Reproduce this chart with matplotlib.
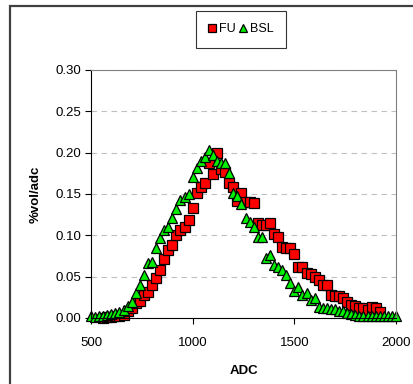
import matplotlib.pyplot as plt
from matplotlib.patches import Rectangle

plt.rcParams['font.family'] = ['Liberation Sans', 'DejaVu Sans']

# FU series (red squares)
fu_adc = list(range(560, 1921, 20))
fu_val = [0.000, 0.001, 0.001, 0.002, 0.003, 0.004, 0.008, 0.012, 0.018, 0.020,
          0.028, 0.032, 0.040, 0.048, 0.058, 0.071, 0.082, 0.088, 0.100, 0.106,
          0.110, 0.119, 0.133, 0.151, 0.158, 0.163, 0.187, 0.174, 0.200, 0.180,
          0.177, 0.163, 0.159, 0.142, 0.151, 0.140, 0.140, 0.139, 0.115, 0.113,
          0.113, 0.115, 0.102, 0.098, 0.086, 0.085, 0.085, 0.077, 0.062, 0.062,
          0.054, 0.053, 0.050, 0.046, 0.040, 0.040, 0.028, 0.027, 0.027, 0.024,
          0.019, 0.016, 0.015, 0.012, 0.012, 0.010, 0.013, 0.012, 0.007]

# BSL series (green triangles)
bsl_adc = list(range(500, 2001, 20))
bsl_val = [0.002, 0.001, 0.002, 0.003, 0.004, 0.005, 0.006, 0.007, 0.010, 0.014,
           0.019, 0.030, 0.040, 0.052, 0.066, 0.068, 0.085, 0.097, 0.107, 0.110,
           0.121, 0.132, 0.143, 0.146, 0.150, 0.171, 0.182, 0.190, 0.195, 0.203,
           0.197, 0.190, 0.187, 0.187, 0.175, 0.151, 0.147, 0.138, 0.121, 0.116,
           0.110, 0.098, 0.098, 0.073, 0.076, 0.064, 0.062, 0.058, 0.052, 0.042,
           0.033, 0.037, 0.028, 0.030, 0.022, 0.024, 0.013, 0.012, 0.012, 0.011,
           0.011, 0.009, 0.008, 0.006, 0.005, 0.004, 0.003, 0.003, 0.002, 0.002,
           0.002, 0.002, 0.002, 0.002, 0.002, 0.002]

x_ticks = [500, 1000, 1500, 2000]
y_ticks = [0.00, 0.05, 0.10, 0.15, 0.20, 0.25, 0.30]

fig = plt.figure(figsize=(4.14, 3.84), dpi=100)
ax = fig.add_axes([91 / 414, 66 / 384, 305 / 414, 248 / 384])

# outer chart border
fig.patches.append(Rectangle((10 / 414, -0.05), 1.2, (384 - 6) / 384 + 0.05,
                             transform=fig.transFigure, fill=False,
                             edgecolor='#404040', linewidth=1.6))

ax.plot(fu_adc, fu_val, linestyle='none', marker='s', ms=6.5,
        markerfacecolor='#ff0000', markeredgecolor='black', markeredgewidth=0.9,
        label='FU', clip_on=False)
ax.plot(bsl_adc, bsl_val, linestyle='none', marker='^', ms=6.8,
        markerfacecolor='#00ee00', markeredgecolor='black', markeredgewidth=0.9,
        label='BSL', clip_on=False)

ax.set_xlim(500, 2000)
ax.set_ylim(0, 0.30)
ax.set_xticks(x_ticks)
ax.set_yticks(y_ticks)
ax.set_yticklabels(['%.2f' % v for v in y_ticks])
ax.tick_params(axis='both', labelsize=9.5, length=4, width=0.8, direction='out', pad=3)
ax.tick_params(axis='x', pad=10)

ax.yaxis.grid(True, color='#c0c0c0', linestyle=(0, (5, 4)), linewidth=0.8)
ax.set_axisbelow(True)
ax.spines['top'].set_color('#808080')
ax.spines['right'].set_color('#808080')
ax.spines['left'].set_color('black')
ax.spines['bottom'].set_color('black')

ax.set_xlabel('ADC', fontsize=9.5, fontweight='bold', labelpad=11)
ax.set_ylabel('%vol/adc', fontsize=9.5, fontweight='bold', labelpad=10)

leg = fig.legend(loc='center', bbox_to_anchor=(241 / 414, (384 - 29) / 384), ncol=2,
                 fontsize=9, frameon=True, fancybox=False, shadow=False,
                 handlelength=0.6, handletextpad=0.25, columnspacing=0.3,
                 borderpad=1.0, borderaxespad=0, markerscale=0.8)
leg.get_frame().set_edgecolor('black')
leg.get_frame().set_linewidth(0.8)

fig.savefig('out.png', dpi=100)
